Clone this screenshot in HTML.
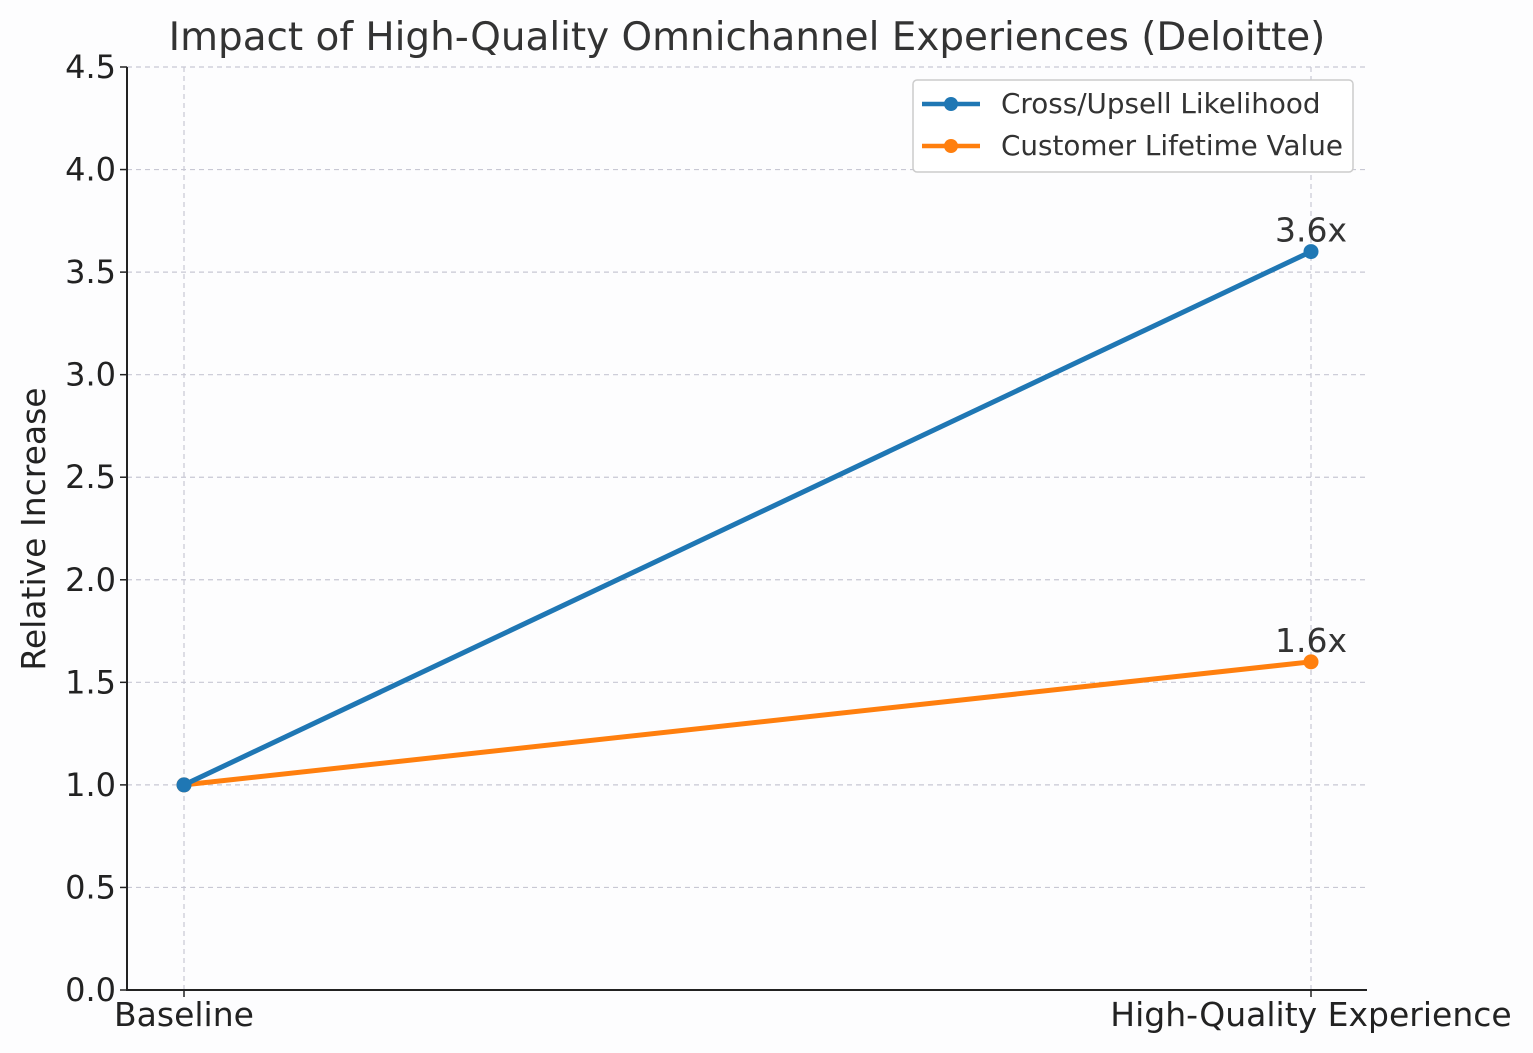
<!DOCTYPE html>
<html><head><meta charset="utf-8"><style>
html,body{margin:0;padding:0;background:#fff;}
svg{display:block;font-family:"DejaVu Sans","Liberation Sans",sans-serif;}
</style></head><body>
<svg id="chart" width="1533" height="1053" viewBox="0 0 1533 1053">
<rect width="1533" height="1053" fill="#fdfdfe"/>
<text x="747" y="50" font-size="38.9" text-anchor="middle" fill="#333">Impact of High-Quality Omnichannel Experiences (Deloitte)</text>
<g id="grid"></g>
<g id="axes"></g>
<g id="series"></g>
<text transform="translate(45,529) rotate(-90)" font-size="33" text-anchor="middle" fill="#222">Relative Increase</text>
<g>
<rect x="913" y="80" width="440" height="92" rx="4" fill="#fff" stroke="#ccc" stroke-width="1.5"/>
<g>
<line x1="922" y1="104" x2="980" y2="104" stroke="#1f77b4" stroke-width="4.5"/>
<circle cx="951" cy="104" r="7" fill="#1f77b4"/>
<text x="1001" y="113" font-size="27.8" fill="#333">Cross/Upsell Likelihood</text></g>
<g>
<line x1="922" y1="146" x2="980" y2="146" stroke="#ff7f0e" stroke-width="4.5"/>
<circle cx="951" cy="146" r="7" fill="#ff7f0e"/>
<text x="1001" y="155" font-size="27.8" fill="#333">Customer Lifetime Value</text></g>
</g>
</svg>
<script>
const categories=["Baseline","High-Quality Experience"];
const crossUpsell=[1.0,3.6];
const lifetimeValue=[1.0,1.6];
const yTicks=[0,0.5,1.0,1.5,2.0,2.5,3.0,3.5,4.0,4.5];
const pointLabels=["3.6x","1.6x"];
const NS="http://www.w3.org/2000/svg";
const L=127,R=1367,T=67,B=990,yMax=4.5;
const xs=[184,1311];
const x=i=>xs[0]+(xs[1]-xs[0])*i/(categories.length-1);
const y=v=>B-(B-T)*v/yMax;
function mk(tag,attrs,parent,text){const e=document.createElementNS(NS,tag);for(const k in attrs)e.setAttribute(k,attrs[k]);if(text!==undefined)e.textContent=text;document.getElementById(parent).appendChild(e);return e;}
yTicks.forEach(v=>{
 const g=mk('line',{x1:L,x2:R,y1:y(v),y2:y(v),stroke:'#c8c8d4','stroke-width':1.2,'stroke-dasharray':'5,4'},'grid');
 
 
 const t=mk('line',{x1:L-7,x2:L,y1:y(v),y2:y(v),stroke:'#222','stroke-width':1.5},'axes');
 
 
 const lb=mk('text',{x:L-11,y:y(v)+11,'font-size':32,'text-anchor':'end',fill:'#222'},'axes',v.toFixed(1));
 
 
});
categories.forEach((c,i)=>{
 const g=mk('line',{x1:x(i),x2:x(i),y1:T,y2:B,stroke:'#c8c8d4','stroke-width':1.2,'stroke-dasharray':'5,4'},'grid');
 
 
 const t=mk('line',{x1:x(i),x2:x(i),y1:B,y2:B+7,stroke:'#222','stroke-width':1.5},'axes');
 
 
 const lb=mk('text',{x:x(i),y:B+36,'font-size':33,'text-anchor':'middle',fill:'#222'},'axes',c);
 
 
});
const ax=mk('path',{d:`M${L},${T}V${B}H${R}`,fill:'none',stroke:'#222','stroke-width':2},'axes');


function series(vals,color,name){
 const p=mk('polyline',{points:vals.map((v,i)=>x(i)+','+y(v)).join(' '),fill:'none',stroke:color,'stroke-width':5},'series');
 
 
 vals.forEach((v,i)=>{
  const c=mk('circle',{cx:x(i),cy:y(v),r:7.5,fill:color},'series');
  
  
 });
}
series(lifetimeValue,'#ff7f0e','clv');
series(crossUpsell,'#1f77b4','cross-upsell');
[crossUpsell,lifetimeValue].forEach((s,k)=>{
 const last=s.length-1;
 const t=mk('text',{x:x(last),y:y(s[last])-10,'font-size':33,'text-anchor':'middle',fill:'#333'},'series',pointLabels[k]);
 
 
});
</script>
</body></html>
